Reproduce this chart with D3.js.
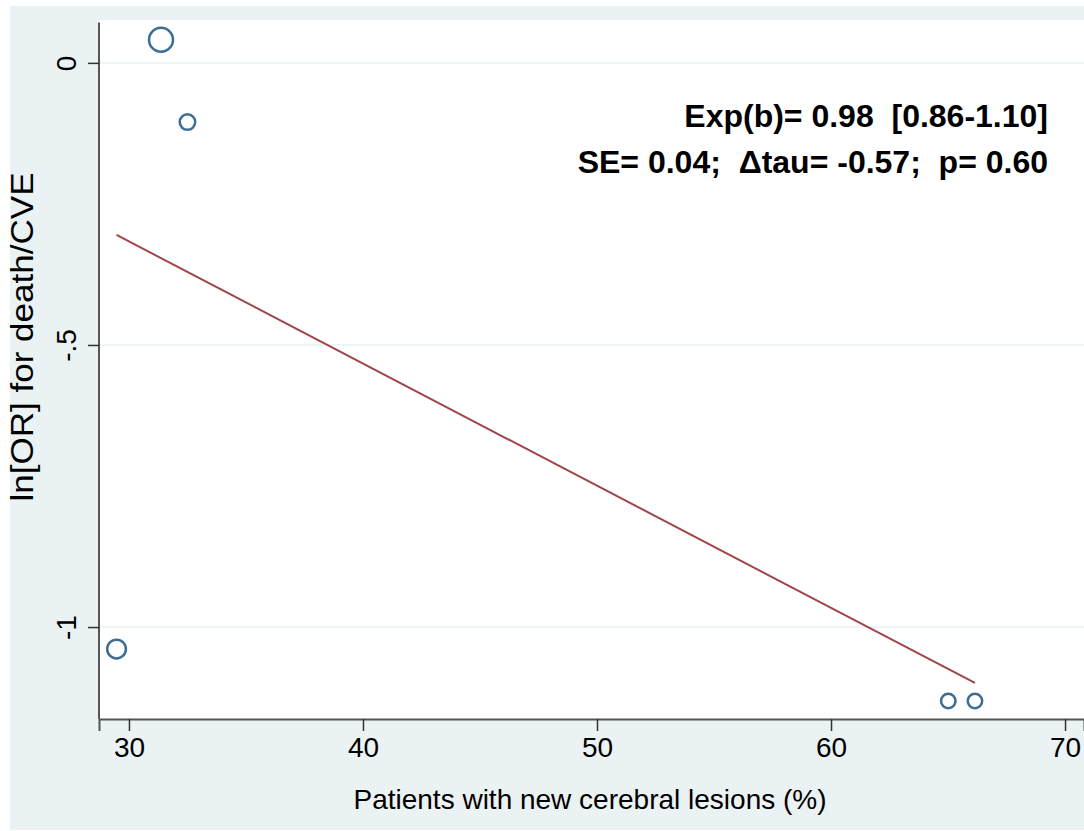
<!DOCTYPE html>
<html><head><meta charset="utf-8">
<script src="https://cdn.jsdelivr.net/npm/d3@7"></script>
<style>body{margin:0;background:#fff}svg{display:block}text{font-family:"Liberation Sans",Arial,sans-serif;fill:#000}</style>
</head><body><svg id="c" width="1084" height="831"></svg>
<script>
const pctLesions = [31.37, 32.5, 29.47, 65.01, 66.15];
const lnOR = [0.041, -0.105, -1.039, -1.131, -1.131];
const weights = [144, 60, 88, 52, 52];
const fitX = [29.47, 66.15];
const fitY = [-0.305, -1.099];
const xTicks = [30, 40, 50, 60, 70];
const yTicks = [0, -0.5, -1];
const yTickLabels = ["0", "-.5", "-1"];
const annot = ["Exp(b)= 0.98  [0.86-1.10]", "SE= 0.04;  \u0394tau= -0.57;  p= 0.60"];

const svg = d3.select("#c");
const x = d3.scaleLinear().domain([28.72, 70.81]).range([99, 1084]);
const y = d3.scaleLinear().domain([0.076, -1.163]).range([20, 719]);
const r = d3.scaleSqrt().domain([0, 144]).range([0, 12]);

svg.append("rect").attr("x",10).attr("y",6).attr("width",1074).attr("height",824).attr("fill","#eaf2f3");
svg.append("rect").attr("x",99).attr("y",20).attr("width",985).attr("height",699).attr("fill","#fff");

// grid
svg.append("g").selectAll("line").data(yTicks).join("line")
  .attr("x1",99).attr("x2",1084).attr("y1",d=>y(d)).attr("y2",d=>y(d))
  .attr("stroke","#eaf2f3").attr("stroke-width",1.5);

// axes
const xAxis = d3.axisBottom(x).tickValues(xTicks).tickSize(12).tickPadding(6).tickFormat(d3.format("d"));
const gx = svg.append("g").attr("transform","translate(0,719)").call(xAxis);
gx.select(".domain").attr("stroke","#555").attr("stroke-width",2);
gx.selectAll(".tick line").attr("stroke","#333").attr("stroke-width",1.5);
gx.selectAll("text").attr("font-size",28).attr("font-family","Liberation Sans, Arial, sans-serif").attr("fill","#000");

const yAxis = d3.axisLeft(y).tickValues(yTicks).tickSize(11).tickFormat((d,i)=>yTickLabels[i]);
const gy = svg.append("g").attr("transform","translate(99,0)").call(yAxis);
gy.select(".domain").attr("stroke","#555").attr("stroke-width",2).attr("d","M-0,22.5V719");
gy.selectAll(".tick line").attr("stroke","#333").attr("stroke-width",1.5);
gy.selectAll("text").attr("font-size",28).attr("font-family","Liberation Sans, Arial, sans-serif").attr("fill","#000")
  .attr("x",null).attr("dy",null).attr("text-anchor","middle")
  .attr("transform","translate(-23,0) rotate(-90)");

// fitted line
svg.append("line").attr("x1",x(fitX[0])).attr("y1",y(fitY[0])).attr("x2",x(fitX[1])).attr("y2",y(fitY[1]))
  .attr("stroke","#a0454b").attr("stroke-width",2);

// points
svg.append("g").selectAll("circle").data(pctLesions).join("circle")
  .attr("cx",d=>x(d)).attr("cy",(d,i)=>y(lnOR[i])).attr("r",(d,i)=>r(weights[i]))
  .attr("fill","none").attr("stroke","#3b6d95").attr("stroke-width",2.5);

// annotation
svg.append("g").selectAll("text").data(annot).join("text")
  .attr("x",1048).attr("y",(d,i)=>127+i*46).attr("text-anchor","end")
  .attr("font-size",32).attr("font-weight","bold").style("white-space","pre").text(d=>d);

// titles
svg.append("text").attr("x",590).attr("y",809).attr("text-anchor","middle").attr("font-size",28)
  .text("Patients with new cerebral lesions (%)");
svg.append("text").attr("transform","translate(33,337) rotate(-90)").attr("text-anchor","middle").attr("font-size",31)
  .attr("textLength",329).attr("lengthAdjust","spacingAndGlyphs")
  .text("ln[OR] for death/CVE");
</script></body></html>
